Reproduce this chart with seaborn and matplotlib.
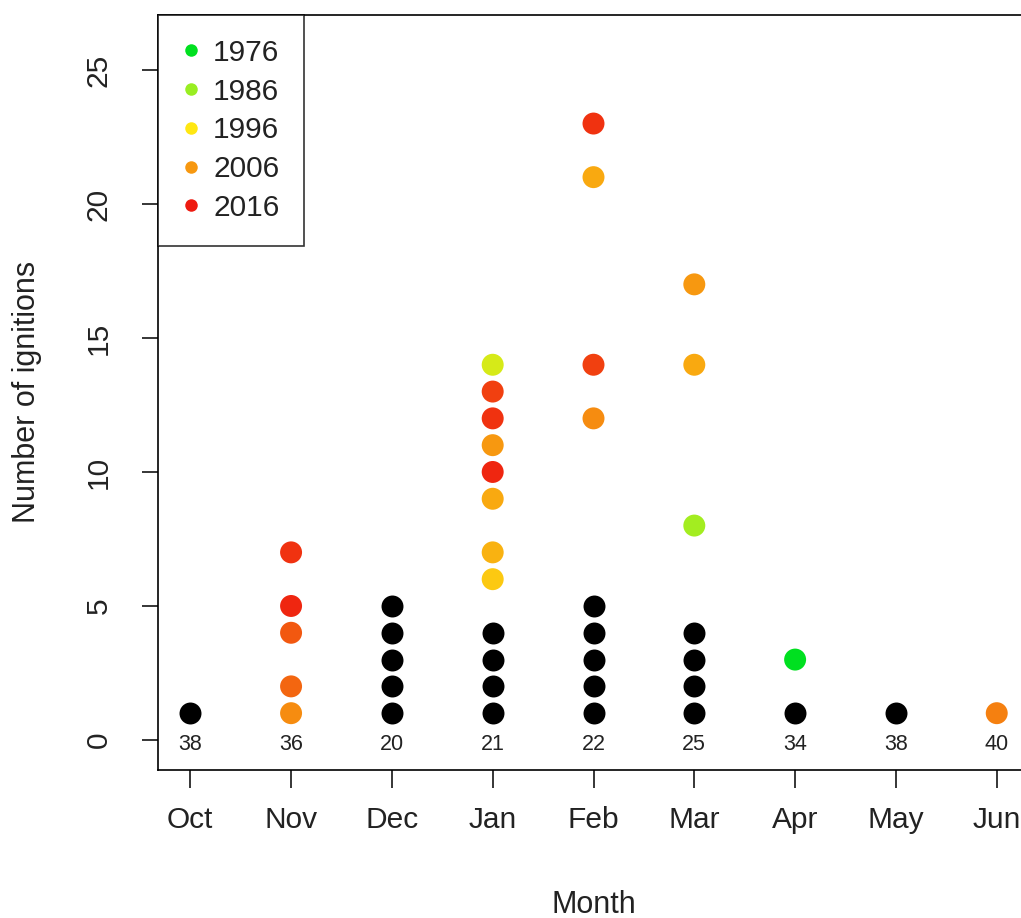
import numpy as np
import pandas as pd
import matplotlib
matplotlib.use("Agg")
import matplotlib.pyplot as plt
from matplotlib.colors import LinearSegmentedColormap, to_hex
from matplotlib.lines import Line2D
import seaborn as sns

sns.set_theme(style="white")
plt.rcParams['font.family'] = ['Liberation Sans', 'DejaVu Sans']

# ---- data ----
months = ["Oct", "Nov", "Dec", "Jan", "Feb", "Mar", "Apr", "May", "Jun"]
month_counts = [38, 36, 20, 21, 22, 25, 34, 38, 40]

# black (baseline) points: number of stacked points per month, values 1..n
black_n = [1, 0, 5, 4, 5, 4, 1, 1, 0]

# coloured points: month, ignitions, year
col_month = ["Nov", "Nov", "Nov", "Nov", "Nov",
             "Jan", "Jan", "Jan", "Jan", "Jan", "Jan", "Jan", "Jan",
             "Feb", "Feb", "Feb", "Feb",
             "Mar", "Mar", "Mar",
             "Apr",
             "Jun"]
col_value = [1, 2, 4, 5, 7,
             6, 7, 9, 10, 11, 12, 13, 14,
             12, 14, 21, 23,
             8, 14, 17,
             3,
             1]
col_year = [2007, 2010, 2011, 2015, 2014,
            2000, 2003, 2004, 2015, 2006, 2014, 2013, 1992,
            2007, 2013, 2004, 2014,
            1987, 2004, 2006,
            1976,
            2008]

legend_years = [1976, 1986, 1996, 2006, 2016]

# ---- colours ----
cmap = LinearSegmentedColormap.from_list(
    "yr", ["#00e020", "#99ee22", "#ffe812", "#f79a10", "#ee1a10"])
def year_color(y):
    return to_hex(cmap((y - 1976) / 40.0))

# ---- frames ----
bx, by = [], []
for i, n in enumerate(black_n):
    for v in range(1, n + 1):
        bx.append(i)
        by.append(v)
df_black = pd.DataFrame({"x": bx, "y": by})

df_col = pd.DataFrame({
    "x": [months.index(m) for m in col_month],
    "y": col_value,
    "year": col_year,
})
palette = {y: year_color(y) for y in sorted(set(col_year))}

W, H = 1021, 918
fig = plt.figure(figsize=(W / 100, H / 100), dpi=100)
ax = fig.add_axes([158 / W, 148 / H, (1029 - 158) / W, 755 / H])

sns.scatterplot(data=df_black, x="x", y="y", color="black", s=250,
                linewidth=0, ax=ax, legend=False, zorder=3)
sns.scatterplot(data=df_col, x="x", y="y", hue="year", palette=palette,
                s=250, linewidth=0, ax=ax, legend=False, zorder=3)

for i, c in enumerate(month_counts):
    ax.text(i, -0.15, str(c), ha="center", va="center", fontsize=15.5,
            color="#222222")

ax.set_xlim(-0.32, 8.32)
ax.set_ylim(-1.12, 27.05)
ax.set_xticks(range(len(months)))
ax.set_xticklabels(months)
ax.set_yticks([0, 5, 10, 15, 20, 25])
ax.set_yticklabels(["0", "5", "10", "15", "20", "25"], rotation=90,
                   va="center")
ax.tick_params(axis="x", length=13, width=1.1, pad=13, labelsize=21.5,
               colors="black", direction="out", bottom=True)
ax.tick_params(axis="y", length=11.5, width=1.1, pad=21, labelsize=21.5,
               colors="black", direction="out", left=True)
for lab in ax.get_xticklabels() + ax.get_yticklabels():
    lab.set_color("#222222")

for sp in ax.spines.values():
    sp.set_visible(True)
    sp.set_color("black")
    sp.set_linewidth(1.2)

ax.set_xlabel("")
ax.set_ylabel("")
fig.text(27 / W, 1 - 392 / H, "Number of ignitions", rotation=90,
         ha="center", va="center", fontsize=22, color="#222222")
fig.text(594 / W, 1 - 905 / H, "Month", ha="center", va="center",
         fontsize=22, color="#222222")

handles = [Line2D([0], [0], marker="o", linestyle="none", markersize=9,
                  markerfacecolor=year_color(y), markeredgewidth=0)
           for y in legend_years]
leg = ax.legend(handles, [str(y) for y in legend_years], loc="upper left",
                bbox_to_anchor=(0, 1), borderaxespad=0, frameon=True,
                fontsize=21.5, handletextpad=0.45, labelspacing=0.36,
                borderpad=0.8, handlelength=0.6, fancybox=False)
leg.get_frame().set_edgecolor("black")
leg.get_frame().set_linewidth(1.2)
for t in leg.get_texts():
    t.set_color("#222222")

fig.savefig("out.png", dpi=100, facecolor="white")
